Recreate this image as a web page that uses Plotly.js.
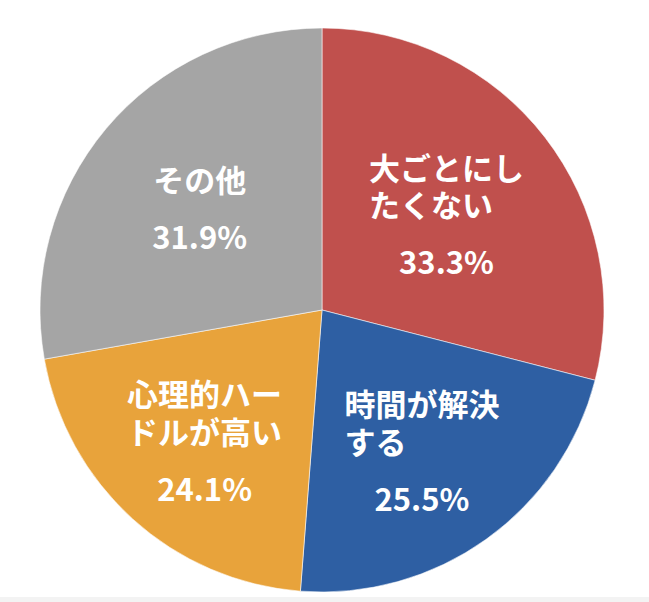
<!DOCTYPE html>
<html>
<head>
<meta charset="utf-8">
<script src="https://cdn.plot.ly/plotly-3.0.1.min.js"></script>
<style>
  html, body { margin: 0; padding: 0; background: #f3f3f3; }
  #chart { width: 649px; height: 597px; background: #ffffff; }
</style>
</head>
<body>
<div id="chart"></div>
<script>
// ---- data ----
const categories = ['大ごとにしたくない', '時間が解決する', '心理的ハードルが高い', 'その他'];
const labelLines = [['大ごとにし', 'たくない'], ['時間が解決', 'する'], ['心理的ハー', 'ドルが高い'], ['その他']];
const percents = [33.3, 25.5, 24.1, 31.9];
const sliceColors = ['#C0504D', '#2E5FA3', '#E8A33B', '#A5A5A5'];

// ---- build label text ----
const BIG = 31;
function span(s) { return '<span style="font-size:' + BIG + 'px">' + s + '</span>'; }
const texts = labelLines.map(function (lines, i) {
  const maxLen = Math.max.apply(null, lines.map(function (l) { return l.length; }));
  const padded = lines.map(function (l) { return span(l + '\u3000'.repeat(maxLen - l.length)); });
  return padded.join('<br><br>') + '<br><br><br>' + span(percents[i].toFixed(1) + '%');
});

const trace = {
  type: 'pie',
  labels: categories,
  values: percents,
  text: texts,
  textinfo: 'text',
  textposition: 'inside',
  insidetextorientation: 'horizontal',
  sort: false,
  direction: 'clockwise',
  rotation: 0,
  hoverinfo: 'skip',
  marker: { colors: sliceColors, line: { color: 'rgba(255,255,255,0.7)', width: 0.8 } },
  insidetextfont: { family: '"Noto Sans CJK JP", "Noto Sans", sans-serif', size: 14.6, color: '#ffffff', weight: 'bold' },
  domain: { x: [40 / 649, 604 / 649], y: [5 / 597, 569 / 597] },
  showlegend: false
};

const layout = {
  width: 649,
  height: 597,
  margin: { l: 0, r: 0, t: 0, b: 0 },
  paper_bgcolor: '#ffffff',
  showlegend: false
};

Plotly.newPlot('chart', [trace], layout, { displayModeBar: false, staticPlot: true });
</script>
</body>
</html>
